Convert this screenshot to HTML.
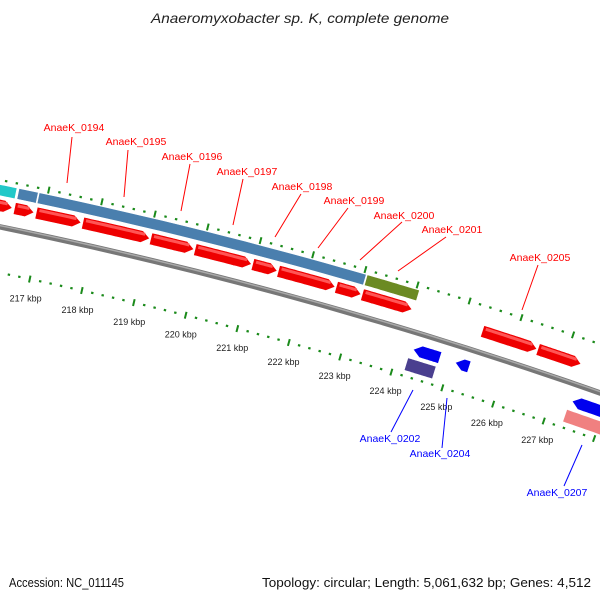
<!DOCTYPE html>
<html><head><meta charset="utf-8"><style>
html,body{margin:0;padding:0;background:#fff;}
svg{display:block;font-family:"Liberation Sans","DejaVu Sans",sans-serif;}
</style></head><body>
<svg id="map" width="600" height="600" viewBox="0 0 600 600" xmlns="http://www.w3.org/2000/svg">
<rect width="600" height="600" fill="#fff"/>
<text x="151" y="23" textLength="298" lengthAdjust="spacingAndGlyphs" font-size="14" font-style="italic" fill="#222">Anaeromyxobacter sp. K, complete genome</text>
<g id="ticks"></g>
<g id="track"></g>
<g id="feats"></g>
<g id="labels"></g>
<text x="9" y="587" textLength="115" lengthAdjust="spacingAndGlyphs" font-size="13" fill="#111">Accession: NC_011145</text>
<text x="262" y="587" textLength="329" lengthAdjust="spacingAndGlyphs" font-size="13" fill="#111">Topology: circular; Length: 5,061,632 bp; Genes: 4,512</text>
</svg>
<script>
// feature data (kbp start, kbp end)
const fwdStarts = [215.85, 216.45, 216.86, 217.74, 219.03, 219.87, 220.97, 221.46, 222.57, 223.07, 225.39, 226.47];
const fwdEnds   = [216.41, 216.82, 217.71, 219.01, 219.85, 220.95, 221.44, 222.55, 223.05, 224.03, 226.45, 227.31];
const cogStarts = [215.56, 216.46, 216.84, 223.06];
const cogEnds   = [216.42, 216.82, 223.04, 224.06];
const cogColors = ["#22c8c8", "#4a7fae", "#4a7fae", "#6b8a23"];
const revStarts = [224.27, 225.09, 227.38];
const revEnds   = [224.79, 225.36, 228.4];
const revCogStarts = [224.22, 227.34];
const revCogEnds   = [224.77, 228.4];
const revCogColors = ["#4a3f8f", "#f08080"];
const tickStart = 215, tickEnd = 229;
const majorTicks = [217,218,219,220,221,222,223,224,225,226,227];
const tickLabels = ["217 kbp","218 kbp","219 kbp","220 kbp","221 kbp","222 kbp","223 kbp","224 kbp","225 kbp","226 kbp","227 kbp"];
const geneNames = ["AnaeK_0194","AnaeK_0195","AnaeK_0196","AnaeK_0197","AnaeK_0198","AnaeK_0199","AnaeK_0200","AnaeK_0201","AnaeK_0205","AnaeK_0202","AnaeK_0204","AnaeK_0207"];

const NS="http://www.w3.org/2000/svg";
const CX=-917, CY=4708, R=4574, PHI0=0.2106, DPHI=0.01178;
function ang(k){return PHI0+(k-217)*DPHI;}
function pt(k,r){const a=ang(k);return [CX+r*Math.sin(a), CY-r*Math.cos(a)];}
function mk(tag,attrs,parent){const e=document.createElementNS(NS,tag);for(const a in attrs)e.setAttribute(a,attrs[a]);parent.appendChild(e);return e;}
function band(k1,k2,r,h,dir){
  const ro=r+h/2, ri=r-h/2, n=16;
  const headK=8/(R*DPHI);
  let a1=k1,a2=k2, pts=[];
  if(dir===1) a2=Math.max(k1,k2-headK);
  if(dir===-1) a1=Math.min(k2,k1+headK);
  for(let i=0;i<=n;i++){const k=a1+(a2-a1)*i/n;pts.push(pt(k,ro));}
  if(dir===1) pts.push(pt(k2,r));
  for(let i=n;i>=0;i--){const k=a1+(a2-a1)*i/n;pts.push(pt(k,ri));}
  if(dir===-1) pts.push(pt(k1,r));
  return pts.map(p=>p[0].toFixed(1)+","+p[1].toFixed(1)).join(" ");
}
function arcPath(k1,k2,r){let d="";for(let i=0;i<=40;i++){const p=pt(k1+(k2-k1)*i/40,r);d+=(i?"L":"M")+p[0].toFixed(1)+" "+p[1].toFixed(1);}return d;}

const ticks=document.getElementById('ticks');
const track=document.getElementById('track');
const feats=document.getElementById('feats');
const labels=document.getElementById('labels');

let bb=mk('path',{d:arcPath(214,230,R),stroke:'#777','stroke-width':5.5,fill:'none'},track);


let bbh=mk('path',{d:arcPath(214,230,R+1.2),stroke:'#aaa','stroke-width':1.5,fill:'none'},track);



for(let i=0;i<=Math.round((tickEnd-tickStart)/0.2);i++){
  const k=tickStart+i*0.2;
  const major=Math.abs(k-Math.round(k))<0.01;
  [R+46,R-45].forEach(r=>{
    const len=major?7:2.2;
    const p1=pt(k,r-len/2),p2=pt(k,r+len/2);
    const t=mk('line',{x1:p1[0],y1:p1[1],x2:p2[0],y2:p2[1],stroke:'#1a8a1a','stroke-width':major?2:2.4},ticks);
    
    
  });
}
majorTicks.forEach((k,i)=>{
  const p=pt(k,R-65);
  const t=mk('text',{x:p[0],y:p[1]+3,'text-anchor':'middle','font-size':9,fill:'#222'},ticks);
  t.textContent=tickLabels[i];
  
  
});

cogStarts.forEach((s,i)=>{
  const e=mk('polygon',{points:band(s,cogEnds[i],R+36,11,0),fill:cogColors[i],stroke:'#fff','stroke-width':0.6},feats);
  
  
});
fwdStarts.forEach((s,i)=>{
  const e=mk('polygon',{points:band(s,fwdEnds[i],R+21,12,1),fill:'#ee0000',stroke:'#fff','stroke-width':0.6},feats);
  
  
  const h=mk('polygon',{points:band(s+0.05,fwdEnds[i]-0.1,R+24,3,0),fill:'#ff5555'},feats);
  
  
});
revCogStarts.forEach((s,i)=>{
  const e=mk('polygon',{points:band(s,revCogEnds[i],R-33,13,0),fill:revCogColors[i],stroke:'#fff','stroke-width':0.6},feats);
  
  
});
revStarts.forEach((s,i)=>{
  const e=mk('polygon',{points:band(s,revEnds[i],R-17,12,-1),fill:'#0000ee',stroke:'#fff','stroke-width':0.6},feats);
  
  
});

const labelPos=[[74,131,72,137,67,183,'#f00'],[136,145,128,150,124,197,'#f00'],[192,160,190,164,181,211,'#f00'],[247,175,243,179,233,225,'#f00'],[302,190,301,194,275,237,'#f00'],[354,204,348,208,318,248,'#f00'],[404,219,402,222,360,260,'#f00'],[452,233,446,237,398,271,'#f00'],[540,261,538,265,522,310,'#f00'],[390,442,391,432,413,390,'#00f'],[440,457,442,448,447,398,'#00f'],[557,496,564,486,582,445,'#00f']];
geneNames.forEach((n,i)=>{
  const L=labelPos[i];
  const ln=mk('line',{x1:L[2],y1:L[3],x2:L[4],y2:L[5],stroke:L[6],'stroke-width':1},labels);
  
  
  const t=mk('text',{x:L[0],y:L[1],'text-anchor':'middle','font-size':10.5,fill:L[6]},labels);
  t.textContent=n;
  
  
});
</script>
</body></html>
